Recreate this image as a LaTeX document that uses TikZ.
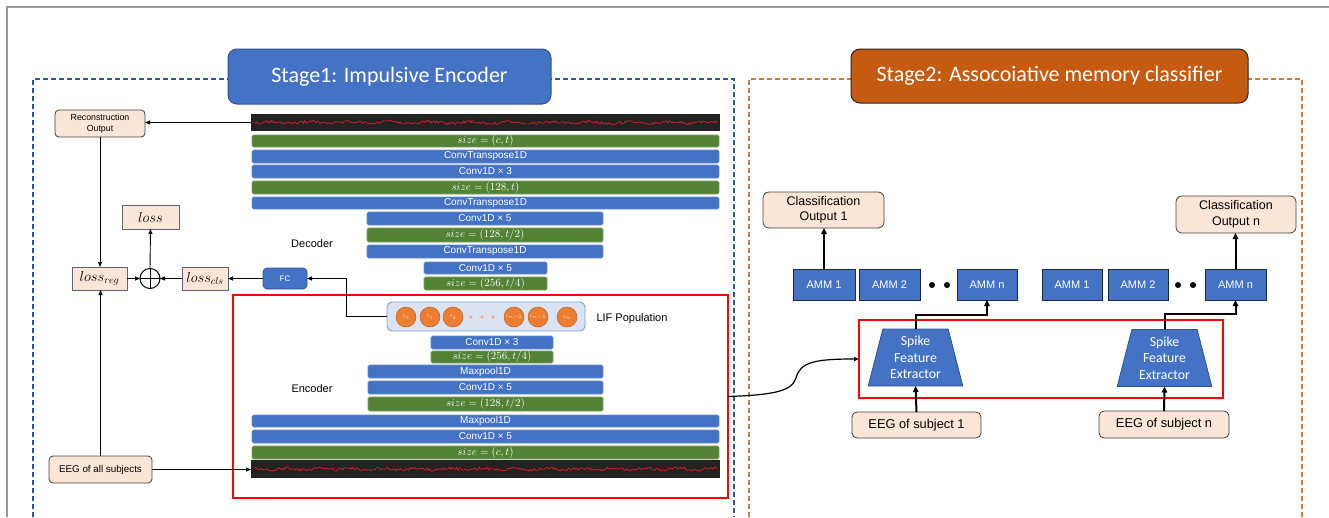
\documentclass[tikz,border=0pt]{standalone}
\usepackage{fontspec}
\setmainfont{Liberation Sans}
\newfontfamily\carl{Carlito}
\usetikzlibrary{arrows.meta,shapes.geometric,calc}
\definecolor{lblue}{HTML}{4472C4}
\definecolor{dblue}{HTML}{2F528F}
\definecolor{barblue}{HTML}{6A8BCB}
\definecolor{lgreen}{HTML}{548235}
\definecolor{bargreen}{HTML}{7A9A62}
\definecolor{peach}{HTML}{FBE5D6}
\definecolor{rust}{HTML}{C55A11}
\definecolor{rustdash}{HTML}{D27A3C}
\definecolor{bluedash}{HTML}{2F5597}
\definecolor{lifbg}{HTML}{DAE3F3}
\definecolor{lifedge}{HTML}{7F9FD4}
\definecolor{neuron}{HTML}{ED7D31}
\definecolor{neuronedge}{HTML}{C0621E}
\definecolor{neurondot}{HTML}{F4B183}
\definecolor{lossedge}{HTML}{5B6478}
\definecolor{ammedge}{HTML}{1E2A40}
\definecolor{signal}{HTML}{E02020}
\definecolor{stripbg}{HTML}{222222}
\definecolor{framegray}{HTML}{999999}

% box from corner (x1,y1) to corner (x2,y2), y growing downwards
\newcommand\boxat[7]{\node[#6, minimum width={(#4)-(#2)}, minimum height={(#5)-(#3)}] (#1) at ({((#2)+(#4))/2},{((#3)+(#5))/2}) {#7};}
% tensor-size label of a layer bar
\newcommand\sz[1]{{\fontsize{10.8}{11}\selectfont$size=(#1)$}}

\tikzset{
  base/.style={inner sep=0pt, outer sep=0pt, align=center},
  layerB/.style={base, fill=lblue, draw=barblue, line width=0.6pt, rounded corners=1.5pt, text=white, font=\fontsize{10}{11}\selectfont},
  layerG/.style={layerB, fill=lgreen, draw=bargreen},
  strip/.style={base, fill=stripbg},
  peachbox/.style={base, fill=peach, draw=black!75, line width=0.8pt, rounded corners=4pt, text=black},
  lossbox/.style={base, fill=peach, draw=lossedge, line width=0.9pt, font=\fontsize{14}{15}\selectfont},
  ammbox/.style={base, fill=lblue, draw=ammedge, line width=1pt, text=white, font=\fontsize{11}{13}\selectfont},
  fcbox/.style={base, fill=lblue, draw=dblue, line width=0.7pt, rounded corners=4pt, text=white, font=\fontsize{8}{9}\selectfont},
  lifbox/.style={base, fill=lifbg, draw=lifedge, line width=0.9pt, rounded corners=5pt},
  neuronnode/.style={base, circle, fill=neuron, draw=neuronedge, line width=0.5pt, minimum size=20pt, text=peach, font=\fontsize{5.5}{6}\selectfont},
  redframe/.style={base, draw=red, line width=1.6pt},
  sfe/.style={base, trapezium, trapezium angle=75, trapezium stretches=true, minimum width=95pt, minimum height=57pt, fill=lblue, draw=dblue, line width=0.8pt, text=white, font=\carl\fontsize{13.8}{16.5}\selectfont},
  titlebox/.style={base, rounded corners=9pt, line width=1pt, text=white, font=\carl\fontsize{22}{26}\selectfont},
  plainlabel/.style={base, text=black},
  arr/.style={-{Triangle[length=5pt,width=4pt]}, line width=0.9pt},
  thickarr/.style={-{Triangle[length=6pt,width=5.5pt]}, line width=2pt},
  sig/.style={signal, line width=0.7pt},
}

\begin{document}
\begin{tikzpicture}[x=1pt, y=-1pt]
\useasboundingbox (0,0) rectangle (1329,517);

% page frame
\draw[framegray, line width=1.5pt] (7,517) -- (7,7) -- (1329,7);

% stage frames
\draw[bluedash, line width=1.4pt, dash pattern=on 5pt off 3pt] (33,517) -- (33,79) -- (734,79) -- (734,517);
\draw[rustdash, line width=1.4pt, dash pattern=on 5pt off 3pt] (749,517) -- (749,79) -- (1302,79) -- (1302,517);

\boxat{stage1}{228}{49}{551}{104}{titlebox, fill=lblue, draw=dblue}{Stage1: Impulsive Encoder}
\boxat{stage2}{851}{49}{1248}{103}{titlebox, fill=rust, draw=black!85}{Stage2: Assocoiative memory classifier}

% ---------------- Stage 1 ----------------
% reconstructed signal
\boxat{tstrip}{251}{114}{720}{131}{strip}{}
\pgfmathsetseed{42}
\draw[sig] plot[domain=254:717, samples=330, variable=\x] (\x,{122.5+1.4*rand+0.9*sin(9*\x)});

% decoder
\boxat{d1}{252}{135}{719}{147}{layerG}{\sz{c,t}}
\boxat{d2}{252}{150}{719}{163}{layerB}{ConvTranspose1D}
\boxat{d3}{252}{165}{719}{178}{layerB}{Conv1D × 3}
\boxat{d4}{252}{181}{719}{194}{layerG}{\sz{128,t}}
\boxat{d5}{252}{197}{719}{209}{layerB}{ConvTranspose1D}
\boxat{d6}{367}{212}{603}{225}{layerB}{Conv1D × 5}
\boxat{d7}{367}{228}{603}{242}{layerG}{\sz{128,t/2}}
\boxat{d8}{367}{245}{603}{258}{layerB}{ConvTranspose1D}
\boxat{d9}{424}{262}{547}{274}{layerB}{Conv1D × 5}
\boxat{d10}{424}{277}{547}{290}{layerG}{\sz{256,t/4}}
\node[plainlabel, font=\fontsize{11}{13}\selectfont] (declab) at (312,244) {Decoder};

% encoder highlight
\boxat{encbox}{233}{295}{728}{498}{redframe}{}

% LIF population
\boxat{lif}{387}{302}{585}{331}{lifbox}{}
\foreach \xx/\lab/\nm in {406/t_0/n0, 430/t_1/n1, 453/t_2/n2, 514/t_{n-2}/n3, 538/t_{n-1}/n4, 567/t_n/n5}
  \node[neuronnode] (\nm) at (\xx,317) {$\lab$};
\foreach \xx in {471,482,493}
  \fill[neurondot] (\xx,317) circle (1.9pt);
\node[plainlabel, font=\fontsize{11}{13}\selectfont] (liflab) at (632,319) {LIF Population};

% encoder
\boxat{e1}{431}{336}{553}{349}{layerB}{Conv1D × 3}
\boxat{e2}{431}{351}{553}{363}{layerG}{\sz{256,t/4}}
\boxat{e3}{368}{365}{603}{378}{layerB}{Maxpool1D}
\boxat{e4}{368}{381}{603}{394}{layerB}{Conv1D × 5}
\boxat{e5}{368}{397}{603}{411}{layerG}{\sz{128,t/2}}
\boxat{e6}{252}{415}{719}{427}{layerB}{Maxpool1D}
\boxat{e7}{252}{430}{719}{443}{layerB}{Conv1D × 5}
\boxat{e8}{252}{446}{719}{459}{layerG}{\sz{c,t}}
\node[plainlabel, font=\fontsize{11}{13}\selectfont] (enclab) at (312,389) {Encoder};

% input signal
\boxat{bstrip}{251}{460}{720}{478}{strip}{}
\pgfmathsetseed{7}
\draw[sig] plot[domain=254:717, samples=330, variable=\x] (\x,{469+1.4*rand+0.9*sin(11*\x)});

% losses
\boxat{recon}{55}{110}{145}{137}{peachbox, font=\fontsize{8.8}{11}\selectfont}{Reconstruction\\Output}
\boxat{eegall}{49}{456}{152}{483}{peachbox, font=\fontsize{9.8}{12}\selectfont}{EEG of all subjects}
\boxat{loss}{122}{205}{179}{229}{lossbox}{$loss$}
\boxat{lreg}{72}{267}{127}{290}{lossbox}{$loss_{reg}$}
\boxat{lcls}{182}{267}{228}{290}{lossbox}{$loss_{cls}$}
\boxat{fc}{263}{268}{307}{289}{fcbox}{FC}
\node[base, circle, draw, line width=1pt, minimum size=20pt] (plus) at (150,278.5) {};
\draw[line width=1pt] (plus.north) -- (plus.south) (plus.west) -- (plus.east);

\draw[arr] (tstrip.west) -- (tstrip.west -| recon.east);
\draw[arr] (recon.south) -- (recon.south |- lreg.north);
\draw[arr] (eegall.north) -- (eegall.north |- lreg.south);
\draw[arr] (eegall.east) -- (eegall.east -| bstrip.west);
\draw[arr] (lreg.east) -- (plus.west);
\draw[arr] (lcls.west) -- (plus.east);
\draw[arr] (plus.north) -- (loss.south);
\draw[arr] (fc.west) -- (lcls.east);
\draw[arr] (lif.west) -| ([xshift=39pt]fc.east) -- (fc.east);

% ---------------- Stage 2 ----------------
\boxat{sfebox}{859}{320}{1223}{398}{redframe}{}

\boxat{co1}{763}{192}{884}{228}{peachbox, rounded corners=6pt, font=\fontsize{12.5}{15.5}\selectfont}{Classification\\Output 1}
\boxat{con}{1176}{196}{1296}{233}{peachbox, rounded corners=6pt, font=\fontsize{12.5}{15.5}\selectfont}{Classification\\Output n}

\boxat{a11}{793}{269}{855}{300}{ammbox}{AMM 1}
\boxat{a12}{859}{269}{920}{300}{ammbox}{AMM 2}
\boxat{a1n}{957}{269}{1017}{300}{ammbox}{AMM n}
\boxat{a21}{1042}{269}{1102}{300}{ammbox}{AMM 1}
\boxat{a22}{1108}{269}{1168}{300}{ammbox}{AMM 2}
\boxat{a2n}{1205}{269}{1266}{300}{ammbox}{AMM n}
\foreach \xx in {932,947,1178,1193}
  \fill (\xx,285) circle (3pt);

\node[sfe] (sfe1) at (915.5,357.5) {Spike\\Feature\\Extractor};
\node[sfe] (sfe2) at (1164.5,358) {Spike\\Feature\\Extractor};

\boxat{eeg1}{852}{412}{981}{438}{peachbox, rounded corners=5pt, font=\fontsize{12.8}{15}\selectfont}{EEG of subject 1}
\boxat{eegn}{1099}{411}{1229}{438}{peachbox, rounded corners=5pt, font=\fontsize{12.8}{15}\selectfont}{EEG of subject n}

\draw[thickarr] (a11.north) -- (a11.north |- co1.south);
\draw[thickarr] (a2n.north) -- (a2n.north |- con.south);
\draw[thickarr] (sfe1.north) -- ++(0,-14) -| (a1n.south);
\draw[thickarr] (sfe2.north) -- ++(0,-15) -| (a2n.south);
\draw[thickarr] (eeg1.north) -- (sfe1.south);
\draw[thickarr] (eegn.north) -- (sfe2.south);

% spikes handed from the encoder to the feature extractors
\coordinate (bend) at (796,378);
\draw[arr, line width=1.2pt] (encbox.east) .. controls (770,395) and (792,392) .. (bend)
  .. controls (800,362) and (815,359) .. (sfebox.west);
\end{tikzpicture}
\end{document}
